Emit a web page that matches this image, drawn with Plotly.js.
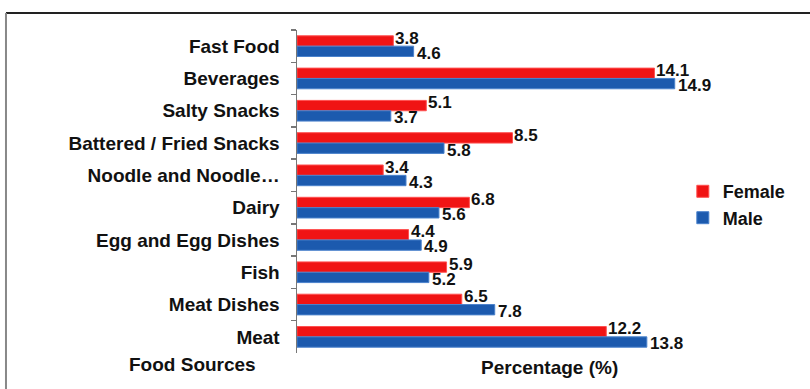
<!DOCTYPE html>
<html><head><meta charset="utf-8">
<script src="https://cdn.plot.ly/plotly-3.0.1.min.js"></script>
<style>html,body{margin:0;padding:0;background:#fff}#chart{width:810px;height:389px}</style>
</head><body><div id="chart"></div>
<script>
const categories = ["Fast Food","Beverages","Salty Snacks","Battered / Fried Snacks","Noodle and Noodle…","Dairy","Egg and Egg Dishes","Fish","Meat Dishes","Meat"];
const female = [3.8,14.1,5.1,8.5,3.4,6.8,4.4,5.9,6.5,12.2];
const male = [4.6,14.9,3.7,5.8,4.3,5.6,4.9,5.2,7.8,13.8];
const seriesNames = ["Female","Male"];

const F = "Liberation Sans, Arial, sans-serif";
const vfont = {family:F, size:17, color:"#111", weight:"bold"};
const traces = [
  {type:"bar", orientation:"h", name:seriesNames[0], y:categories, x:female,
   marker:{color:"#f01414", line:{color:"#ff5050", width:1}}, hoverinfo:"none"},
  {type:"bar", orientation:"h", name:seriesNames[1], y:categories, x:male,
   marker:{color:"#1c5aae", line:{color:"#4a82cc", width:1}}, hoverinfo:"none"}
];
const valueLabels = [];
categories.forEach((c,i)=>{
  valueLabels.push({text:female[i].toFixed(1), xref:"x", yref:"y", x:female[i], y:c, xanchor:"left", yanchor:"middle",
    xshift:0, yshift:8, showarrow:false, font:vfont});
  valueLabels.push({text:male[i].toFixed(1), xref:"x", yref:"y", x:male[i], y:c, xanchor:"left", yanchor:"middle",
    xshift:1, yshift:-7, showarrow:false, font:vfont});
});
const layout = {
  width:810, height:389,
  margin:{l:297, r:6, t:30, b:36},
  paper_bgcolor:"#fff", plot_bgcolor:"#fff",
  barmode:"group", bargap:0.36, bargroupgap:0,
  font:{family:F, color:"#111"},
  xaxis:{range:[0,20], autorange:false, showgrid:false, zeroline:false, showline:false, showticklabels:false, ticks:""},
  yaxis:{type:"category", range:[categories.length-0.5,-0.5], autorange:false, showgrid:false, zeroline:false, showline:true, linecolor:"#777", linewidth:1.5,
         ticks:"outside", tickson:"boundaries", ticklen:5, tickcolor:"#777", tickwidth:1.5,
         tickfont:{family:F, size:19, color:"#111", weight:"bold"}, ticklabelstandoff:12},
  showlegend:true,
  legend:{x:0.761, y:0.557, xanchor:"left", yanchor:"top", font:{family:F, size:18, color:"#111", weight:"bold"},
          bgcolor:"rgba(0,0,0,0)", itemwidth:30, tracegroupgap:0},
  annotations:valueLabels.concat([
    {text:"Food Sources", xref:"paper", yref:"paper", x:-0.207, y:-0.037, xanchor:"center", yanchor:"middle", showarrow:false,
     font:{family:F, size:19, color:"#111", weight:"bold"}},
    {text:"Percentage (%)", xref:"paper", yref:"paper", x:0.499, y:-0.046, xanchor:"center", yanchor:"middle", showarrow:false,
     font:{family:F, size:19, color:"#111", weight:"bold"}}
  ]),
  shapes:[
    {type:"line", xref:"paper", yref:"paper", x0:-0.574, x1:1.02, y0:1.0526, y1:1.0526, line:{color:"#222", width:2}},
    {type:"line", xref:"paper", yref:"paper", x0:-0.574, x1:-0.574, y0:1.0526, y1:-0.12, line:{color:"#888", width:2}}
  ]
};
Plotly.newPlot("chart", traces, layout, {displayModeBar:false, staticPlot:true});
</script></body></html>
